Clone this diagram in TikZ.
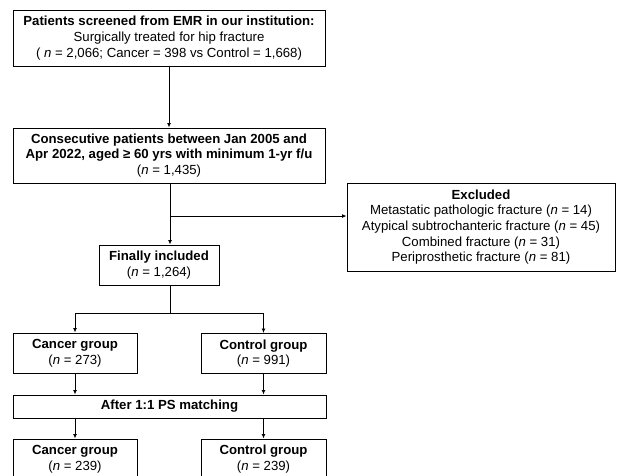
\documentclass[tikz,border=0pt]{standalone}
\usepackage{fontspec}
\setmainfont{Liberation Sans}
\usetikzlibrary{arrows.meta}

\begin{document}
\begin{tikzpicture}[>={Latex[length=4.5pt,width=4pt]}, x=1pt, y=-1pt, line width=1pt,
    box/.style={draw, align=center, inner sep=0pt, font=\fontsize{13.2}{15.6}\selectfont}]
    \useasboundingbox (0,0) rectangle (617,475);

    % screening and eligibility
    \node[box, minimum width=312pt, minimum height=56pt] (scr) at (169,38)
        {\textbf{Patients screened from EMR in our institution:}\\
         Surgically treated for hip fracture\\
         ( \textit{n} = 2,066; Cancer = 398 vs Control = 1,668)};
    \node[box, minimum width=312pt, minimum height=55pt] (cons) at (169,155.5)
        {\textbf{Consecutive patients between Jan 2005 and}\\
         \textbf{Apr 2022, aged ≥ 60 yrs with minimum 1-yr f/u}\\
         (\textit{n} = 1,435)};
    \node[box, minimum width=268pt, minimum height=88pt] (excl) at (481,227)
        {\textbf{Excluded}\\
         Metastatic pathologic fracture (\textit{n} = 14)\\
         Atypical subtrochanteric fracture (\textit{n} = 45)\\
         Combined fracture (\textit{n} = 31)\\
         Periprosthetic fracture (\textit{n} = 81)};
    \node[box, minimum width=120pt, minimum height=40pt] (incl) at (159,265)
        {\textbf{Finally included}\\ (\textit{n} = 1,264)};

    % groups before and after matching
    \node[box, minimum width=124pt, minimum height=40pt] (can1) at (75,353)
        {\textbf{Cancer group}\\ (\textit{n} = 273)};
    \node[box, minimum width=125pt, minimum height=40pt] (con1) at (263.5,353.5)
        {\textbf{Control group}\\ (\textit{n} = 991)};
    \node[box, minimum width=313pt, minimum height=23pt] (ps) at (169.5,406.5)
        {\textbf{After 1:1 PS matching}};
    \node[box, minimum width=124pt, minimum height=40pt] (can2) at (75,459)
        {\textbf{Cancer group}\\ (\textit{n} = 239)};
    \node[box, minimum width=125pt, minimum height=40pt] (con2) at (263.5,459)
        {\textbf{Control group}\\ (\textit{n} = 239)};

    % connectors
    \draw[->] (scr.south) -- (cons.north);
    \coordinate (br) at (170,216);
    \coordinate (split) at (170,313);
    \draw[->] (cons.south -| br) -- (split |- incl.north);
    \draw[->] (br) -- (br -| excl.west);
    \draw (split |- incl.south) -- (split);
    \draw (can1.north |- split) -- (con1.north |- split);
    \draw[->] (can1.north |- split) -- (can1.north);
    \draw[->] (con1.north |- split) -- (con1.north);
    \draw[->] (can1.south) -- (can1.south |- ps.north);
    \draw[->] (con1.south) -- (con1.south |- ps.north);
    \draw[->] (can2.north |- ps.south) -- (can2.north);
    \draw[->] (con2.north |- ps.south) -- (con2.north);
\end{tikzpicture}
\end{document}
